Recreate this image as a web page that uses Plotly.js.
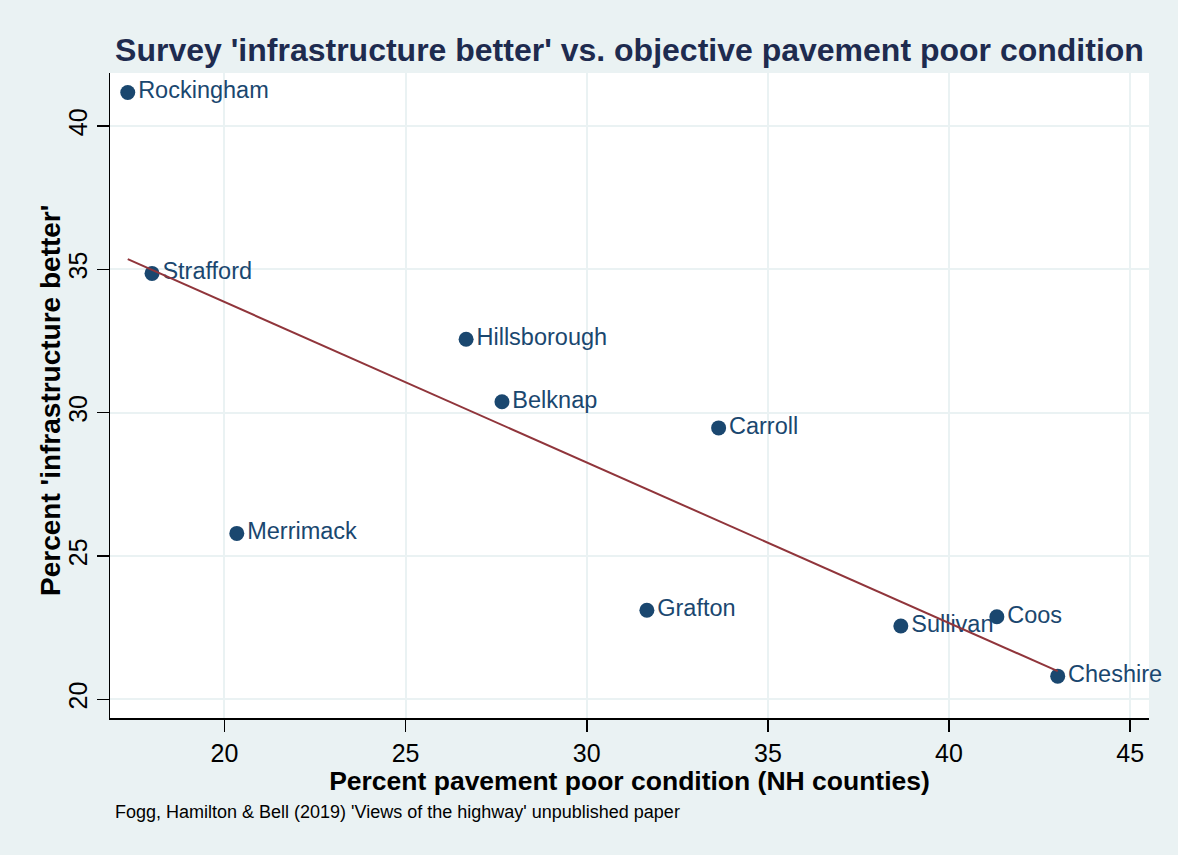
<!DOCTYPE html>
<html>
<head>
<meta charset="utf-8">
<script src="https://cdn.plot.ly/plotly-3.0.1.min.js"></script>
<style>
  html, body { margin: 0; padding: 0; background: #ffffff; }
  #chart { width: 1178px; height: 855px; }
</style>
</head>
<body>
<div id="chart"></div>
<script>
// Data
const counties = ["Rockingham", "Strafford", "Hillsborough", "Belknap", "Carroll",
                  "Merrimack", "Grafton", "Sullivan", "Coos", "Cheshire"];
const pavementPoor = [17.33, 18.00, 26.67, 27.66, 33.64, 20.34, 31.66, 38.67, 41.32, 43.00];
const infraBetter  = [41.17, 34.86, 32.56, 30.38, 29.47, 25.79, 23.11, 22.56, 22.88, 20.81];
const xTicks = [20, 25, 30, 35, 40, 45];
const yTicks = [20, 25, 30, 35, 40];

// Ordinary least squares fit line (drawn across the data range)
const n = pavementPoor.length;
const mx = pavementPoor.reduce((a, b) => a + b, 0) / n;
const my = infraBetter.reduce((a, b) => a + b, 0) / n;
let sxy = 0, sxx = 0;
for (let i = 0; i < n; i++) {
  sxy += (pavementPoor[i] - mx) * (infraBetter[i] - my);
  sxx += (pavementPoor[i] - mx) ** 2;
}
const slope = sxy / sxx;
const intercept = my - slope * mx;
const xMin = Math.min(...pavementPoor), xMax = Math.max(...pavementPoor);
const fitX = [xMin, xMax];
const fitY = fitX.map(v => intercept + slope * v);

const FONT = '"Liberation Sans", Arial, Helvetica, sans-serif';
const BG = '#EAF2F3';

const scatter = {
  x: pavementPoor, y: infraBetter, text: counties,
  type: 'scatter', mode: 'markers+text',
  marker: { color: '#1A476F', size: 15 },
  textposition: 'middle right',
  textfont: { family: FONT, size: 23.5, color: '#1A476F' },
  hoverinfo: 'x+y+text', showlegend: false, cliponaxis: false
};
const fit = {
  x: fitX, y: fitY, type: 'scatter', mode: 'lines',
  line: { color: '#90353B', width: 2 }, showlegend: false, hoverinfo: 'skip'
};

const layout = {
  width: 1178, height: 855,
  paper_bgcolor: BG, plot_bgcolor: '#ffffff',
  margin: { l: 110, r: 29, t: 73, b: 137 },
  font: { family: FONT, color: '#000000' },
  title: {
    text: "Survey 'infrastructure better' vs. objective pavement poor condition",
    font: { family: FONT, size: 32, color: '#1E2B4F', weight: 'bold' },
    x: 0.5, xref: 'paper', xanchor: 'center',
    y: 1 - 50 / 855, yref: 'container', yanchor: 'middle'
  },
  xaxis: {
    range: [16.84, 45.52], tickvals: xTicks, ticktext: xTicks.map(String),
    showgrid: true, gridcolor: BG, gridwidth: 2, zeroline: false,
    showline: true, linecolor: '#000000', linewidth: 1.5,
    ticks: 'outside', ticklen: 12, tickwidth: 1.5, tickcolor: '#000000',
    tickfont: { family: FONT, size: 25, color: '#000000' },
    title: { text: 'Percent pavement poor condition (NH counties)',
             font: { family: FONT, size: 26.5, color: '#000000', weight: 'bold' }, standoff: 0 }
  },
  yaxis: {
    range: [19.35, 41.85], tickvals: yTicks, ticktext: yTicks.map(String),
    showgrid: true, gridcolor: BG, gridwidth: 2, zeroline: false,
    showline: true, linecolor: '#000000', linewidth: 1.5,
    ticks: 'outside', ticklen: 12, tickwidth: 1.5, tickcolor: '#000000',
    tickangle: -90,
    tickfont: { family: FONT, size: 25, color: '#000000' }
  },
  annotations: [{
    text: "Percent 'infrastructure better'",
    xref: 'paper', yref: 'paper', x: (50 - 110) / 1039, y: (718 - 401) / 645,
    xanchor: 'center', yanchor: 'middle', textangle: -90, showarrow: false,
    font: { family: FONT, size: 28, color: '#000000', weight: 'bold' }
  }, {
    text: "Fogg, Hamilton & Bell (2019) 'Views of the highway' unpublished paper",
    xref: 'paper', yref: 'paper', x: 3 / 1039, y: -94 / 645,
    xanchor: 'left', yanchor: 'middle', showarrow: false,
    font: { family: FONT, size: 18, color: '#000000' }
  }]
};

Plotly.newPlot('chart', [scatter, fit], layout, { displayModeBar: false, staticPlot: true });
</script>
</body>
</html>
